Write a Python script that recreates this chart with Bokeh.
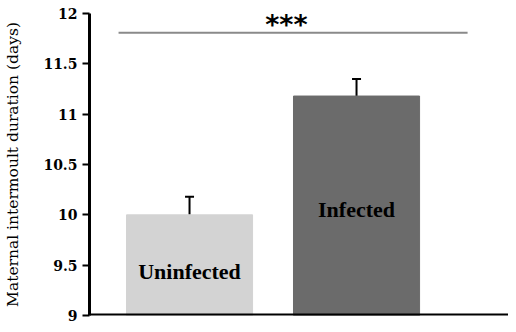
from bokeh.plotting import figure
from bokeh.models import Range1d, ColumnDataSource, Whisker, TeeHead, FixedTicker, Span
from bokeh.core.properties import value
from bokeh.embed import file_html
from bokeh.resources import INLINE

# ---- data ----
groups = ["Uninfected", "Infected"]
means = [10.0, 11.18]
sems = [0.18, 0.17]
bar_colors = ["#d3d3d3", "#6b6b6b"]
y_ticks = [9, 9.5, 10, 10.5, 11, 11.5, 12]
y_tick_labels = ["9", "9.5", "10", "10.5", "11", "11.5", "12"]
sig_level = 11.81
sig_label = "***"

xs = list(range(len(groups)))
src = ColumnDataSource(dict(
    x=xs, top=means, color=bar_colors,
    upper=[m + s for m, s in zip(means, sems)], lower=means,
))

p = figure(width=508, height=324, output_backend="svg", toolbar_location=None,
           x_range=Range1d(-0.599, 1.910), y_range=Range1d(9, 12),
           min_border_left=89, min_border_right=0, min_border_top=13, min_border_bottom=9)
p.outline_line_color = None
p.xgrid.visible = False
p.ygrid.visible = False
p.background_fill_color = "white"

p.vbar(x="x", top="top", bottom=9, width=0.755, color="color", source=src)

w = Whisker(base="x", upper="upper", lower="lower", source=src, line_width=2, line_color="black",
            upper_head=TeeHead(size=9, line_width=2, line_color="black"), lower_head=None)
p.add_layout(w)

# significance bar
p.segment(x0=[xs[0] - 0.425], x1=[xs[1] + 0.665], y0=[sig_level], y1=[sig_level],
          line_color="#8a8a8a", line_width=2)
p.text(x=[(xs[0] + xs[1]) / 2 + 0.08], y=[sig_level + 0.085], text=[sig_label],
       text_align="center", text_baseline="alphabetic", text_font=value("DejaVu Sans"),
       text_font_style="bold", text_font_size="27px", text_color="black")

# bar labels
label_y = [9.44, 10.05]
p.text(x=xs, y=label_y, text=groups, text_align="center", text_baseline="middle",
       text_font=value("Liberation Serif"), text_font_style="bold",
       text_font_size="22px", text_color="black")

# baseline (x axis line)
p.xaxis.visible = False
p.add_layout(Span(location=9, dimension="width", line_color="black", line_width=4))

# y axis
p.yaxis.ticker = FixedTicker(ticks=y_ticks)
p.yaxis.major_label_overrides = {t: l for t, l in zip(y_ticks, y_tick_labels)}
p.yaxis.minor_tick_line_color = None
p.yaxis.major_tick_in = 0
p.yaxis.major_tick_out = 7
p.yaxis.major_tick_line_width = 2
p.yaxis.axis_line_width = 3
p.yaxis.major_label_standoff = 5
p.yaxis.major_label_text_font = "DejaVu Serif"
p.yaxis.major_label_text_font_style = "bold"
p.yaxis.major_label_text_font_size = "14px"
p.yaxis.major_label_text_color = "black"
p.yaxis.axis_label = "Maternal intermoult duration (days)"
p.yaxis.axis_label_text_font = "DejaVu Serif"
p.yaxis.axis_label_text_font_style = "normal"
p.yaxis.axis_label_text_font_size = "15.5px"
p.yaxis.axis_label_text_color = "black"
p.yaxis.axis_label_standoff = 18

open("out.html", "w").write(file_html(p, INLINE))
